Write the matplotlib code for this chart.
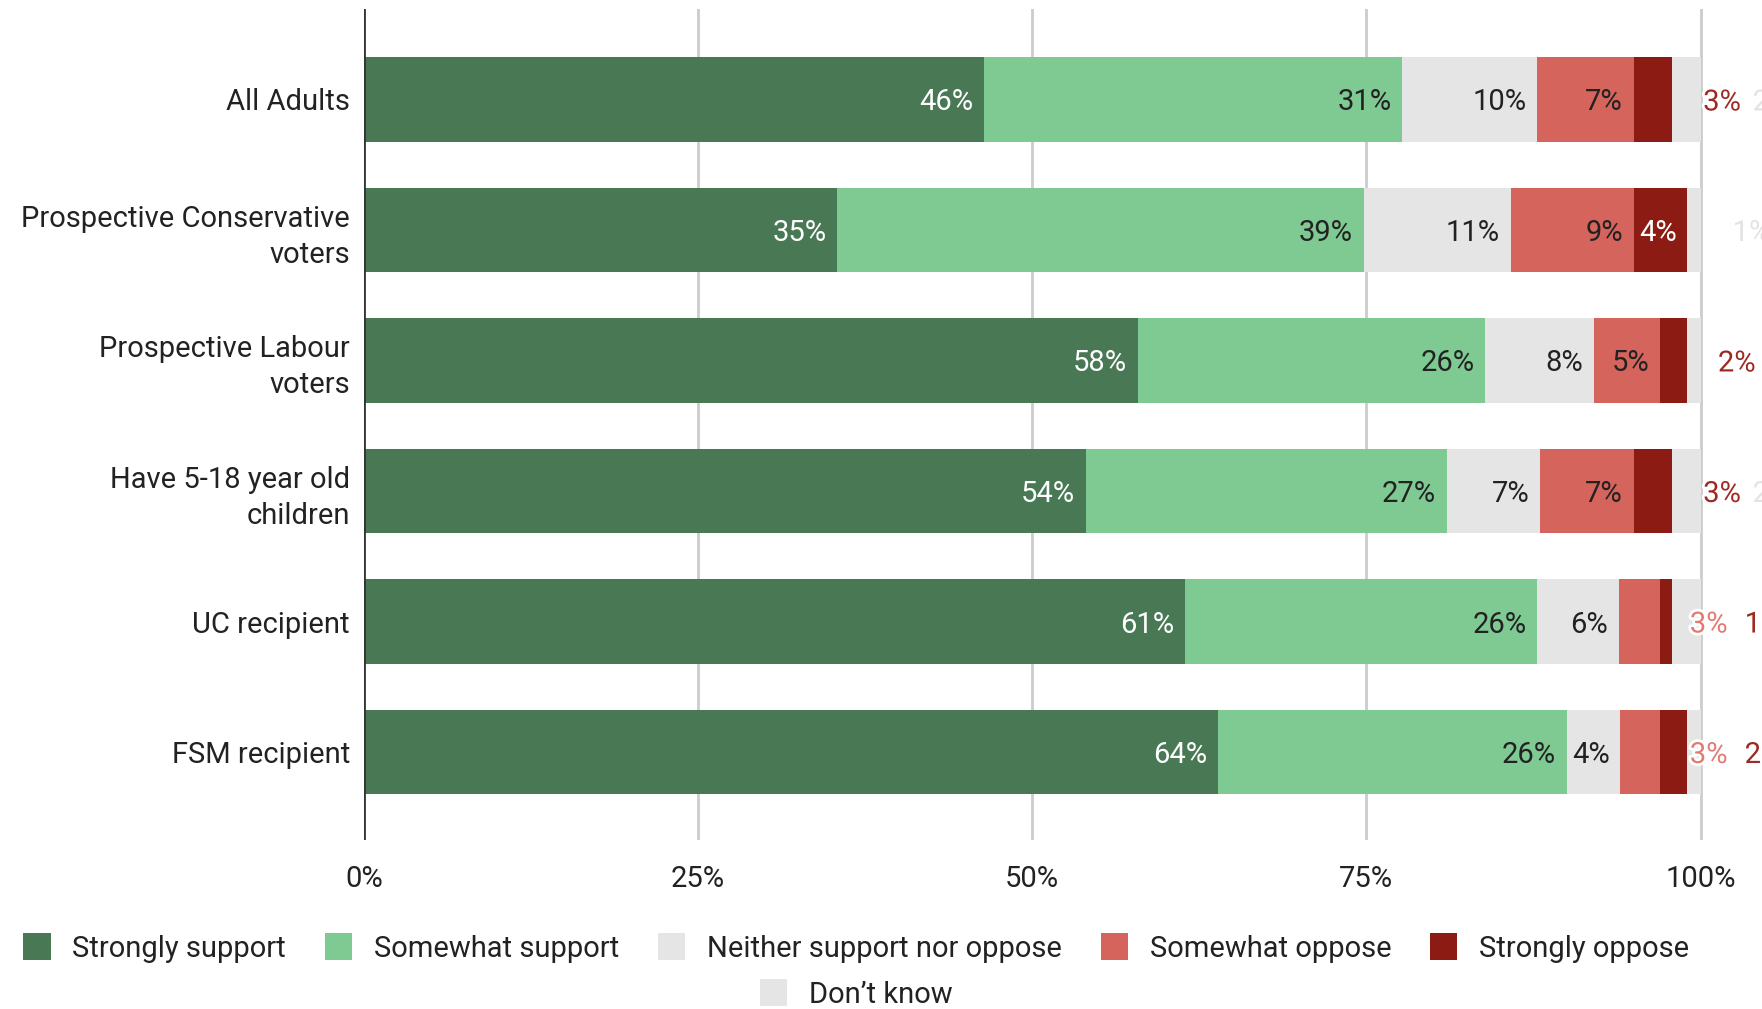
import matplotlib
matplotlib.use("Agg")
import matplotlib.pyplot as plt
import matplotlib.patheffects as pe
from matplotlib.patches import Patch

plt.rcParams['font.family'] = ['Roboto', 'DejaVu Sans']

groups = ["All Adults", "Prospective Conservative\nvoters", "Prospective Labour\nvoters",
          "Have 5-18 year old\nchildren", "UC recipient", "FSM recipient"]
answers = ["Strongly support", "Somewhat support", "Neither support nor oppose",
           "Somewhat oppose", "Strongly oppose", "Don\u2019t know"]

strongly_support = [46.4, 35.4, 57.9, 54.0, 61.4, 63.9]
somewhat_support = [31.3, 39.4, 26.0, 27.0, 26.4, 26.1]
neither = [10.1, 11.0, 8.1, 7.0, 6.1, 4.0]
somewhat_oppose = [7.2, 9.2, 5.0, 7.0, 3.1, 3.0]
strongly_oppose = [2.9, 4.0, 2.0, 2.9, 0.9, 2.0]
dont_know = [2.1, 1.0, 1.0, 2.1, 2.1, 1.0]

series = [strongly_support, somewhat_support, neither, somewhat_oppose, strongly_oppose, dont_know]
colors = ["#497855", "#7fc992", "#e5e5e5", "#d5645c", "#8c1b14", "#e5e5e5"]
label_colors = ["white", "#222222", "#222222", "#222222", "white", "#222222"]
outside_colors = ["#497855", "#7fc992", "#e0e0e0", "#e07a73", "#9c2a22", "#e3e3e3"]

# where the labels that don't fit get pushed (x in %), per row
outside_x = [[100.2, 103.9], [102.4], [101.3, 104.9], [100.2, 103.9], [99.2, 103.3], [99.2, 103.3]]

fig = plt.figure(figsize=(17.62, 10.09), dpi=100)
ax = fig.add_axes([364 / 1762, 1 - 840 / 1009, 1 - 364 / 1762, (840 - 9) / 1009])

fs = 21
ypos = list(range(len(groups)))
left = [0.0] * len(groups)
for k, vals in enumerate(series):
    ax.barh(ypos, vals, left=left, height=0.65, color=colors[k], zorder=2, label=answers[k])
    left = [l + v for l, v in zip(left, vals)]

# labels
for i in range(len(groups)):
    start = 0.0
    out_i = 0
    for k, vals in enumerate(series):
        v = vals[i]
        end = start + v
        txt = f"{round(v)}%"
        if v >= 3.5:
            ax.text(end - 0.8, i, txt, ha="right", va="center_baseline", fontsize=fs,
                    color=label_colors[k], zorder=4)
        else:
            if out_i < len(outside_x[i]):
                ax.text(outside_x[i][out_i], i, txt, ha="left", va="center_baseline", fontsize=fs,
                        color=outside_colors[k], zorder=4, clip_on=False,
                        path_effects=[pe.withStroke(linewidth=4, foreground="white")])
            out_i += 1
        start = end

ax.set_xlim(0, 104.6)
ax.set_ylim(5.674, -0.693)
ax.set_xticks([0, 25, 50, 75, 100])
ax.set_xticklabels(["0%", "25%", "50%", "75%", "100%"], fontsize=fs, color="#222222")
ax.set_yticks(ypos)
ax.set_yticklabels(groups, fontsize=fs, color="#222222", linespacing=1.35)
ax.tick_params(axis="both", length=0)
ax.tick_params(axis="y", pad=10)
ax.tick_params(axis="x", pad=18)
for x in [25, 50, 75, 100]:
    ax.axvline(x, color="#cccccc", linewidth=2, zorder=1)
ax.axvline(0, color="#333333", linewidth=2, zorder=3)
for s in ax.spines.values():
    s.set_visible(False)

handles = [Patch(facecolor=c, edgecolor="none") for c in colors]
fig.legend(handles[:5], answers[:5], loc="center", bbox_to_anchor=(0.486, 1 - 948 / 1009),
           ncol=5, frameon=False, fontsize=fs, handlelength=0.93, handleheight=1.0,
           handletextpad=0.75, columnspacing=1.33, labelcolor="#222222")
fig.legend(handles[5:], answers[5:], loc="center", bbox_to_anchor=(0.486, 1 - 994 / 1009),
           ncol=1, frameon=False, fontsize=fs, handlelength=0.93, handleheight=1.0,
           handletextpad=0.75, labelcolor="#222222")

fig.savefig("out.png", dpi=100)
